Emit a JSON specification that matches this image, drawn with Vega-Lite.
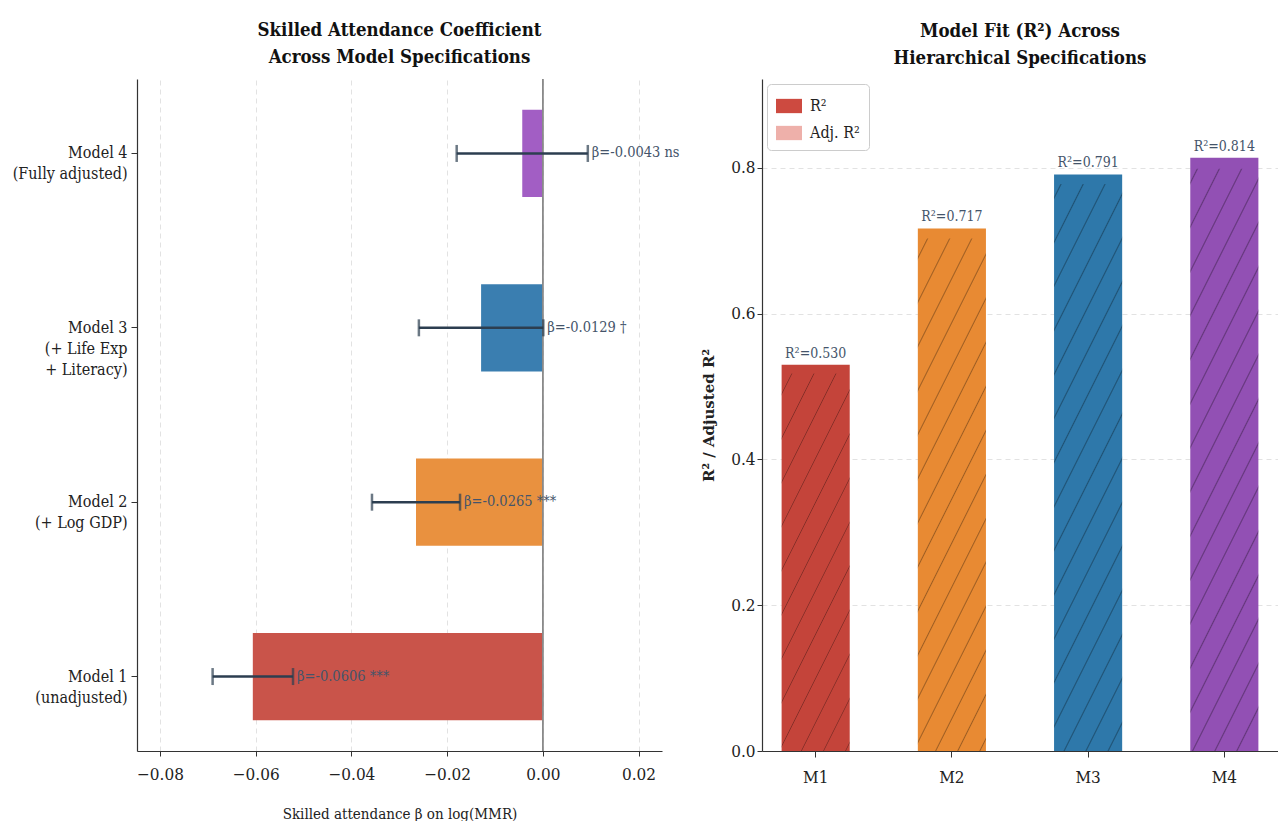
{
  "$schema": "https://vega.github.io/schema/vega-lite/v6.json",
  "background": "white",
  "padding": {"left": 12, "top": 21, "right": 0, "bottom": 0},
  "bounds": "flush",
  "spacing": 100,
  "resolve": {"scale": {"color": "independent", "fill": "independent"}},
  "config": {
    "font": "DejaVu Serif Condensed",
    "view": {"stroke": null},
    "title": {"font": "DejaVu Serif Condensed", "fontSize": 18.5, "fontWeight": "bold", "color": "#111", "lineHeight": 27, "offset": 12},
    "axis": {
      "labelFont": "DejaVu Serif Condensed", "titleFont": "DejaVu Serif Condensed",
      "labelColor": "#222", "titleColor": "#222", "domainColor": "#333", "domainWidth": 1.2,
      "tickColor": "#333", "tickSize": 5, "gridColor": "#e2e2e2", "gridDash": [5, 4], "gridWidth": 1,
      "titleFontWeight": "normal"
    }
  },
  "hconcat": [
    {
      "width": 525,
      "height": 672,
      "title": {"text": ["Skilled Attendance Coefficient", "Across Model Specifications"]},
      "data": {"values": [
        {"model": "Model 1|(unadjusted)", "beta": -0.0606, "lo": -0.0690, "hi": -0.0522, "label": "β=-0.0606 ***", "c": "M1"},
        {"model": "Model 2|(+ Log GDP)", "beta": -0.0265, "lo": -0.0357, "hi": -0.0173, "label": "β=-0.0265 ***", "c": "M2"},
        {"model": "Model 3|(+ Life Exp|+ Literacy)", "beta": -0.0129, "lo": -0.0259, "hi": 0.0001, "label": "β=-0.0129 †", "c": "M3"},
        {"model": "Model 4|(Fully adjusted)", "beta": -0.0043, "lo": -0.0180, "hi": 0.0094, "label": "β=-0.0043 ns", "c": "M4"}
      ]},
      "encoding": {
        "y": {
          "field": "model", "type": "nominal", "sort": "descending",
          "scale": {"paddingInner": 0.5, "paddingOuter": 0.177},
          "axis": {"title": null, "labelExpr": "split(datum.label, '|')", "labelFontSize": 16, "labelLineHeight": 21, "tickSize": 6, "labelPadding": 4}
        }
      },
      "layer": [
        {
          "mark": {"type": "bar"},
          "encoding": {
            "x": {
              "field": "beta", "type": "quantitative",
              "scale": {"domain": [-0.0848, 0.0249], "nice": false, "zero": false},
              "axis": {
                "title": "Skilled attendance β on log(MMR)", "titleFontSize": 15, "titlePadding": 24,
                "values": [-0.08, -0.06, -0.04, -0.02, 0, 0.02],
                "labelExpr": "replace(format(datum.value, '.2f'), '-', '−')",
                "labelFontSize": 17, "labelPadding": 10, "grid": true
              }
            },
            "color": {
              "field": "c", "type": "nominal", "legend": null,
              "scale": {"domain": ["M1", "M2", "M3", "M4"], "range": ["#c9544a", "#e9913f", "#3a7eb0", "#a25ec4"]}
            }
          }
        },
        {
          "mark": {"type": "rule", "color": "#8a8a8a", "strokeWidth": 1},
          "encoding": {"x": {"datum": 0}, "y": null}
        },
        {
          "mark": {"type": "rule", "color": "#2c3e50", "strokeWidth": 2.5},
          "encoding": {"x": {"field": "lo", "type": "quantitative"}, "x2": {"field": "hi"}}
        },
        {
          "mark": {"type": "tick", "color": "#2c3e50", "thickness": 2.5, "size": 17, "orient": "vertical"},
          "encoding": {"x": {"field": "lo", "type": "quantitative"}}
        },
        {
          "mark": {"type": "tick", "color": "#2c3e50", "thickness": 2.5, "size": 17, "orient": "vertical"},
          "encoding": {"x": {"field": "hi", "type": "quantitative"}}
        },
        {
          "mark": {"type": "text", "align": "left", "baseline": "middle", "dx": 4, "fontSize": 14.5, "color": "#44546a"},
          "encoding": {"x": {"field": "hi", "type": "quantitative"}, "text": {"field": "label"}}
        }
      ]
    },
    {
      "width": 516,
      "height": 672,
      "title": {"text": ["Model Fit (R²) Across", "Hierarchical Specifications"]},
      "data": {"values": [
        {"m": "M1", "r2": 0.530, "adj": 0.518, "label": "R²=0.530"},
        {"m": "M2", "r2": 0.717, "adj": 0.703, "label": "R²=0.717"},
        {"m": "M3", "r2": 0.791, "adj": 0.778, "label": "R²=0.791"},
        {"m": "M4", "r2": 0.814, "adj": 0.799, "label": "R²=0.814"}
      ]},
      "encoding": {
        "x": {
          "field": "m", "type": "nominal",
          "scale": {"domain": ["M1", "M2", "M3", "M4"], "paddingInner": 0.5, "paddingOuter": 0.144},
          "axis": {"title": null, "labelAngle": 0, "labelFontSize": 17, "labelPadding": 12, "tickSize": 6}
        }
      },
      "layer": [
        {
          "mark": {"type": "bar"},
          "encoding": {
            "y": {
              "field": "r2", "type": "quantitative",
              "scale": {"domain": [0, 0.922], "nice": false},
              "axis": {
                "title": "R² / Adjusted R²", "titleFont": "DejaVu Serif", "titleFontWeight": "bold", "titleFontSize": 15,
                "values": [0, 0.2, 0.4, 0.6, 0.8], "format": ".1f", "labelFontSize": 17, "grid": true,
                "minExtent": 40, "maxExtent": 40, "titlePadding": 6
              }
            },
            "color": {
              "field": "m", "type": "nominal", "legend": null,
              "scale": {"domain": ["M1", "M2", "M3", "M4"], "range": ["#c4443a", "#e88a33", "#2e78aa", "#9250b4"]}
            }
          }
        },
        {
          "transform": [{"filter": "datum.m === 'M1'"}],
          "mark": {"type": "bar", "fill": {"gradient": "linear", "x1": 0, "y1": 0, "x2": 0.4336, "y2": 1.204, "stops": [
            {"offset": 0.0365, "color": "rgba(0,0,0,0)"}, {"offset": 0.04, "color": "rgba(0,0,0,0.32)"}, {"offset": 0.0435, "color": "rgba(0,0,0,0)"},
            {"offset": 0.1225, "color": "rgba(0,0,0,0)"}, {"offset": 0.126, "color": "rgba(0,0,0,0.32)"}, {"offset": 0.1295, "color": "rgba(0,0,0,0)"},
            {"offset": 0.208, "color": "rgba(0,0,0,0)"}, {"offset": 0.2115, "color": "rgba(0,0,0,0.32)"}, {"offset": 0.215, "color": "rgba(0,0,0,0)"},
            {"offset": 0.2935, "color": "rgba(0,0,0,0)"}, {"offset": 0.297, "color": "rgba(0,0,0,0.32)"}, {"offset": 0.3005, "color": "rgba(0,0,0,0)"},
            {"offset": 0.3795, "color": "rgba(0,0,0,0)"}, {"offset": 0.383, "color": "rgba(0,0,0,0.32)"}, {"offset": 0.3865, "color": "rgba(0,0,0,0)"},
            {"offset": 0.4655, "color": "rgba(0,0,0,0)"}, {"offset": 0.469, "color": "rgba(0,0,0,0.32)"}, {"offset": 0.4725, "color": "rgba(0,0,0,0)"},
            {"offset": 0.5515, "color": "rgba(0,0,0,0)"}, {"offset": 0.555, "color": "rgba(0,0,0,0.32)"}, {"offset": 0.5585, "color": "rgba(0,0,0,0)"},
            {"offset": 0.6365, "color": "rgba(0,0,0,0)"}, {"offset": 0.64, "color": "rgba(0,0,0,0.32)"}, {"offset": 0.6435, "color": "rgba(0,0,0,0)"},
            {"offset": 0.7225, "color": "rgba(0,0,0,0)"}, {"offset": 0.726, "color": "rgba(0,0,0,0.32)"}, {"offset": 0.7295, "color": "rgba(0,0,0,0)"},
            {"offset": 0.8085, "color": "rgba(0,0,0,0)"}, {"offset": 0.812, "color": "rgba(0,0,0,0.32)"}, {"offset": 0.8155, "color": "rgba(0,0,0,0)"},
            {"offset": 0.8945, "color": "rgba(0,0,0,0)"}, {"offset": 0.898, "color": "rgba(0,0,0,0.32)"}, {"offset": 0.9015, "color": "rgba(0,0,0,0)"},
            {"offset": 0.98, "color": "rgba(0,0,0,0)"}, {"offset": 0.9835, "color": "rgba(0,0,0,0.32)"}, {"offset": 0.987, "color": "rgba(0,0,0,0)"}
          ]}},
          "encoding": {"y": {"field": "adj", "type": "quantitative"}}
        },
        {
          "transform": [{"filter": "datum.m === 'M2'"}],
          "mark": {"type": "bar", "fill": {"gradient": "linear", "x1": 0, "y1": 0, "x2": 0.3138, "y2": 1.1822, "stops": [
            {"offset": 0.0265, "color": "rgba(0,0,0,0)"}, {"offset": 0.03, "color": "rgba(0,0,0,0.32)"}, {"offset": 0.0335, "color": "rgba(0,0,0,0)"},
            {"offset": 0.0945, "color": "rgba(0,0,0,0)"}, {"offset": 0.098, "color": "rgba(0,0,0,0.32)"}, {"offset": 0.1015, "color": "rgba(0,0,0,0)"},
            {"offset": 0.1625, "color": "rgba(0,0,0,0)"}, {"offset": 0.166, "color": "rgba(0,0,0,0.32)"}, {"offset": 0.1695, "color": "rgba(0,0,0,0)"},
            {"offset": 0.2305, "color": "rgba(0,0,0,0)"}, {"offset": 0.234, "color": "rgba(0,0,0,0.32)"}, {"offset": 0.2375, "color": "rgba(0,0,0,0)"},
            {"offset": 0.2985, "color": "rgba(0,0,0,0)"}, {"offset": 0.302, "color": "rgba(0,0,0,0.32)"}, {"offset": 0.3055, "color": "rgba(0,0,0,0)"},
            {"offset": 0.3665, "color": "rgba(0,0,0,0)"}, {"offset": 0.37, "color": "rgba(0,0,0,0.32)"}, {"offset": 0.3735, "color": "rgba(0,0,0,0)"},
            {"offset": 0.4345, "color": "rgba(0,0,0,0)"}, {"offset": 0.438, "color": "rgba(0,0,0,0.32)"}, {"offset": 0.4415, "color": "rgba(0,0,0,0)"},
            {"offset": 0.5025, "color": "rgba(0,0,0,0)"}, {"offset": 0.506, "color": "rgba(0,0,0,0.32)"}, {"offset": 0.5095, "color": "rgba(0,0,0,0)"},
            {"offset": 0.5705, "color": "rgba(0,0,0,0)"}, {"offset": 0.574, "color": "rgba(0,0,0,0.32)"}, {"offset": 0.5775, "color": "rgba(0,0,0,0)"},
            {"offset": 0.6385, "color": "rgba(0,0,0,0)"}, {"offset": 0.642, "color": "rgba(0,0,0,0.32)"}, {"offset": 0.6455, "color": "rgba(0,0,0,0)"},
            {"offset": 0.7055, "color": "rgba(0,0,0,0)"}, {"offset": 0.709, "color": "rgba(0,0,0,0.32)"}, {"offset": 0.7125, "color": "rgba(0,0,0,0)"},
            {"offset": 0.7735, "color": "rgba(0,0,0,0)"}, {"offset": 0.777, "color": "rgba(0,0,0,0.32)"}, {"offset": 0.7805, "color": "rgba(0,0,0,0)"},
            {"offset": 0.8415, "color": "rgba(0,0,0,0)"}, {"offset": 0.845, "color": "rgba(0,0,0,0.32)"}, {"offset": 0.8485, "color": "rgba(0,0,0,0)"},
            {"offset": 0.9095, "color": "rgba(0,0,0,0)"}, {"offset": 0.913, "color": "rgba(0,0,0,0.32)"}, {"offset": 0.9165, "color": "rgba(0,0,0,0)"},
            {"offset": 0.9775, "color": "rgba(0,0,0,0)"}, {"offset": 0.981, "color": "rgba(0,0,0,0.32)"}, {"offset": 0.9845, "color": "rgba(0,0,0,0)"}
          ]}},
          "encoding": {"y": {"field": "adj", "type": "quantitative"}}
        },
        {
          "transform": [{"filter": "datum.m === 'M3'"}],
          "mark": {"type": "bar", "fill": {"gradient": "linear", "x1": 0, "y1": 0, "x2": 0.2812, "y2": 1.1724, "stops": [
            {"offset": 0.0165, "color": "rgba(0,0,0,0)"}, {"offset": 0.02, "color": "rgba(0,0,0,0.32)"}, {"offset": 0.0235, "color": "rgba(0,0,0,0)"},
            {"offset": 0.0795, "color": "rgba(0,0,0,0)"}, {"offset": 0.083, "color": "rgba(0,0,0,0.32)"}, {"offset": 0.0865, "color": "rgba(0,0,0,0)"},
            {"offset": 0.1415, "color": "rgba(0,0,0,0)"}, {"offset": 0.145, "color": "rgba(0,0,0,0.32)"}, {"offset": 0.1485, "color": "rgba(0,0,0,0)"},
            {"offset": 0.2045, "color": "rgba(0,0,0,0)"}, {"offset": 0.208, "color": "rgba(0,0,0,0.32)"}, {"offset": 0.2115, "color": "rgba(0,0,0,0)"},
            {"offset": 0.2675, "color": "rgba(0,0,0,0)"}, {"offset": 0.271, "color": "rgba(0,0,0,0.32)"}, {"offset": 0.2745, "color": "rgba(0,0,0,0)"},
            {"offset": 0.3295, "color": "rgba(0,0,0,0)"}, {"offset": 0.333, "color": "rgba(0,0,0,0.32)"}, {"offset": 0.3365, "color": "rgba(0,0,0,0)"},
            {"offset": 0.3925, "color": "rgba(0,0,0,0)"}, {"offset": 0.396, "color": "rgba(0,0,0,0.32)"}, {"offset": 0.3995, "color": "rgba(0,0,0,0)"},
            {"offset": 0.4555, "color": "rgba(0,0,0,0)"}, {"offset": 0.459, "color": "rgba(0,0,0,0.32)"}, {"offset": 0.4625, "color": "rgba(0,0,0,0)"},
            {"offset": 0.5175, "color": "rgba(0,0,0,0)"}, {"offset": 0.521, "color": "rgba(0,0,0,0.32)"}, {"offset": 0.5245, "color": "rgba(0,0,0,0)"},
            {"offset": 0.5805, "color": "rgba(0,0,0,0)"}, {"offset": 0.584, "color": "rgba(0,0,0,0.32)"}, {"offset": 0.5875, "color": "rgba(0,0,0,0)"},
            {"offset": 0.6435, "color": "rgba(0,0,0,0)"}, {"offset": 0.647, "color": "rgba(0,0,0,0.32)"}, {"offset": 0.6505, "color": "rgba(0,0,0,0)"},
            {"offset": 0.7055, "color": "rgba(0,0,0,0)"}, {"offset": 0.709, "color": "rgba(0,0,0,0.32)"}, {"offset": 0.7125, "color": "rgba(0,0,0,0)"},
            {"offset": 0.7685, "color": "rgba(0,0,0,0)"}, {"offset": 0.772, "color": "rgba(0,0,0,0.32)"}, {"offset": 0.7755, "color": "rgba(0,0,0,0)"},
            {"offset": 0.8315, "color": "rgba(0,0,0,0)"}, {"offset": 0.835, "color": "rgba(0,0,0,0.32)"}, {"offset": 0.8385, "color": "rgba(0,0,0,0)"},
            {"offset": 0.8935, "color": "rgba(0,0,0,0)"}, {"offset": 0.897, "color": "rgba(0,0,0,0.32)"}, {"offset": 0.9005, "color": "rgba(0,0,0,0)"},
            {"offset": 0.9565, "color": "rgba(0,0,0,0)"}, {"offset": 0.96, "color": "rgba(0,0,0,0.32)"}, {"offset": 0.9635, "color": "rgba(0,0,0,0)"}
          ]}},
          "encoding": {"y": {"field": "adj", "type": "quantitative"}}
        },
        {
          "transform": [{"filter": "datum.m === 'M4'"}],
          "mark": {"type": "bar", "fill": {"gradient": "linear", "x1": 0, "y1": 0, "x2": 0.2732, "y2": 1.1697, "stops": [
            {"offset": 0.0165, "color": "rgba(0,0,0,0)"}, {"offset": 0.02, "color": "rgba(0,0,0,0.32)"}, {"offset": 0.0235, "color": "rgba(0,0,0,0)"},
            {"offset": 0.0775, "color": "rgba(0,0,0,0)"}, {"offset": 0.081, "color": "rgba(0,0,0,0.32)"}, {"offset": 0.0845, "color": "rgba(0,0,0,0)"},
            {"offset": 0.1395, "color": "rgba(0,0,0,0)"}, {"offset": 0.143, "color": "rgba(0,0,0,0.32)"}, {"offset": 0.1465, "color": "rgba(0,0,0,0)"},
            {"offset": 0.2005, "color": "rgba(0,0,0,0)"}, {"offset": 0.204, "color": "rgba(0,0,0,0.32)"}, {"offset": 0.2075, "color": "rgba(0,0,0,0)"},
            {"offset": 0.2615, "color": "rgba(0,0,0,0)"}, {"offset": 0.265, "color": "rgba(0,0,0,0.32)"}, {"offset": 0.2685, "color": "rgba(0,0,0,0)"},
            {"offset": 0.3235, "color": "rgba(0,0,0,0)"}, {"offset": 0.327, "color": "rgba(0,0,0,0.32)"}, {"offset": 0.3305, "color": "rgba(0,0,0,0)"},
            {"offset": 0.3845, "color": "rgba(0,0,0,0)"}, {"offset": 0.388, "color": "rgba(0,0,0,0.32)"}, {"offset": 0.3915, "color": "rgba(0,0,0,0)"},
            {"offset": 0.4455, "color": "rgba(0,0,0,0)"}, {"offset": 0.449, "color": "rgba(0,0,0,0.32)"}, {"offset": 0.4525, "color": "rgba(0,0,0,0)"},
            {"offset": 0.5075, "color": "rgba(0,0,0,0)"}, {"offset": 0.511, "color": "rgba(0,0,0,0.32)"}, {"offset": 0.5145, "color": "rgba(0,0,0,0)"},
            {"offset": 0.5685, "color": "rgba(0,0,0,0)"}, {"offset": 0.572, "color": "rgba(0,0,0,0.32)"}, {"offset": 0.5755, "color": "rgba(0,0,0,0)"},
            {"offset": 0.6295, "color": "rgba(0,0,0,0)"}, {"offset": 0.633, "color": "rgba(0,0,0,0.32)"}, {"offset": 0.6365, "color": "rgba(0,0,0,0)"},
            {"offset": 0.6915, "color": "rgba(0,0,0,0)"}, {"offset": 0.695, "color": "rgba(0,0,0,0.32)"}, {"offset": 0.6985, "color": "rgba(0,0,0,0)"},
            {"offset": 0.7525, "color": "rgba(0,0,0,0)"}, {"offset": 0.756, "color": "rgba(0,0,0,0.32)"}, {"offset": 0.7595, "color": "rgba(0,0,0,0)"},
            {"offset": 0.8135, "color": "rgba(0,0,0,0)"}, {"offset": 0.817, "color": "rgba(0,0,0,0.32)"}, {"offset": 0.8205, "color": "rgba(0,0,0,0)"},
            {"offset": 0.8755, "color": "rgba(0,0,0,0)"}, {"offset": 0.879, "color": "rgba(0,0,0,0.32)"}, {"offset": 0.8825, "color": "rgba(0,0,0,0)"},
            {"offset": 0.9365, "color": "rgba(0,0,0,0)"}, {"offset": 0.94, "color": "rgba(0,0,0,0.32)"}, {"offset": 0.9435, "color": "rgba(0,0,0,0)"}
          ]}},
          "encoding": {"y": {"field": "adj", "type": "quantitative"}}
        },
        {
          "mark": {"type": "text", "baseline": "bottom", "dy": -4, "fontSize": 14, "color": "#44546a"},
          "encoding": {"y": {"field": "r2", "type": "quantitative"}, "text": {"field": "label"}}
        },
        {
          "data": {"values": [{"series": "R²", "v": null}, {"series": "Adj. R²", "v": null}]},
          "mark": {"type": "square", "opacity": 1, "strokeWidth": 0},
          "encoding": {
            "y": {"field": "v", "type": "quantitative"},
            "x": null,
            "fill": {
              "field": "series", "type": "nominal",
              "scale": {"domain": ["R²", "Adj. R²"], "range": ["#cd4a40", "#eeb0aa"]},
              "legend": {
                "title": null, "orient": "top-left", "offset": 5,
                "symbolType": "M-1,-0.55H1V0.55H-1Z", "symbolSize": 676, "symbolStrokeWidth": 0,
                "labelFontSize": 16, "labelFont": "DejaVu Serif Condensed", "labelColor": "#222", "labelOffset": 8,
                "rowPadding": 6, "padding": 9, "strokeColor": "#cccccc", "fillColor": "white", "cornerRadius": 4
              }
            }
          }
        }
      ]
    }
  ]
}
